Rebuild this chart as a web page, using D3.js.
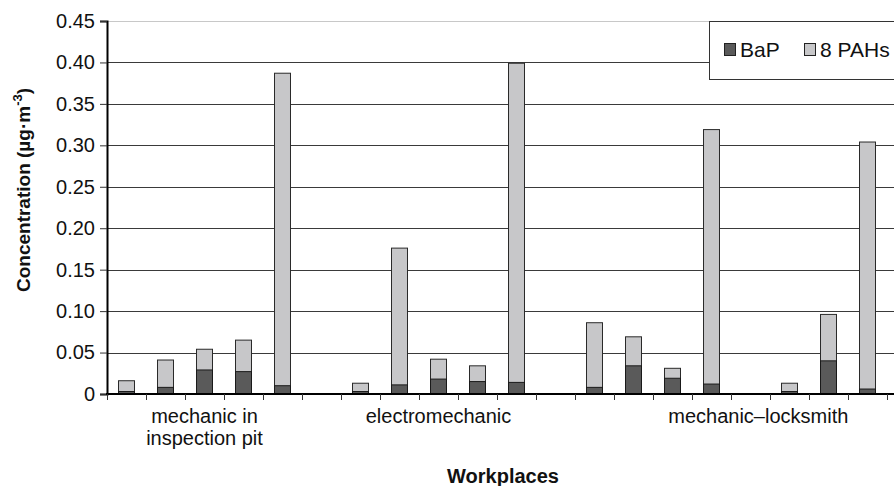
<!DOCTYPE html>
<html>
<head>
<meta charset="utf-8">
<script src="https://cdn.jsdelivr.net/npm/d3@7"></script>
<style>
  html, body { margin: 0; padding: 0; background: #fff; }
  svg { display: block; }
  text { font-family: "Liberation Sans", Arial, sans-serif; fill: #111; }
</style>
</head>
<body>
<svg id="chart" width="894" height="486"></svg>
<script>
// Sampling slots along the x axis (empty slots separate the workplaces)
const slots = d3.range(21);

// BaP concentration per sample, µg·m⁻³ (null = empty slot)
const bap = [0.003, 0.008, 0.029, 0.027, 0.010, null,
             0.003, 0.011, 0.018, 0.015, 0.014, null,
             0.008, 0.034, 0.019, 0.012, null, 0.003, 0.040, 0.006, null];

// Sum of 8 PAHs per sample, µg·m⁻³
const pahs = [0.016, 0.041, 0.054, 0.065, 0.387, null,
              0.013, 0.176, 0.042, 0.034, 0.399, null,
              0.086, 0.069, 0.031, 0.319, null, 0.013, 0.096, 0.304, null];

// Workplace labels and the slot position each is centred on
const groupLabels = [["mechanic in", "inspection pit"], ["electromechanic"], ["mechanic\u2013locksmith"]];
const groupCenters = [2.5, 8.5, 16.7];

// Value axis ticks
const yTicks = [0, 0.05, 0.10, 0.15, 0.20, 0.25, 0.30, 0.35, 0.40, 0.45];
const yTickLabels = ["0", "0.05", "0.10", "0.15", "0.20", "0.25", "0.30", "0.35", "0.40", "0.45"];

const seriesNames = ["BaP", "8 PAHs"];
const seriesColors = ["#5a5a5a", "#c7c7c9"];

const svg = d3.select("#chart");
const plotLeft = 107, plotTop = 21, plotBottom = 394, plotRight = 926;

const x = d3.scaleBand().domain(slots).range([plotLeft, plotRight]).padding(0);
const step = x.step();
const y = d3.scaleLinear().domain([0, 0.45]).range([plotBottom, plotTop]);
const barW = step * 0.41;

// Horizontal gridlines
svg.append("g").selectAll("line").data(yTicks.slice(1)).join("line")
  .attr("x1", plotLeft).attr("x2", 894)
  .attr("y1", d => Math.round(y(d)) + 0.5).attr("y2", d => Math.round(y(d)) + 0.5)
  .attr("stroke", d => d === 0.45 ? "#c8c8c8" : "#3a3a3a")
  .attr("stroke-width", 1);

// Bars: 8 PAHs sum behind, BaP in front from the baseline
const bars = svg.append("g");
slots.forEach(i => {
  if (pahs[i] == null) return;
  const cx = x(i) + step / 2;
  bars.append("rect")
    .attr("x", cx - barW / 2).attr("width", barW)
    .attr("y", y(pahs[i])).attr("height", y(0) - y(pahs[i]))
    .attr("fill", seriesColors[1]).attr("stroke", "#2a2a2a").attr("stroke-width", 1);
  bars.append("rect")
    .attr("x", cx - barW / 2).attr("width", barW)
    .attr("y", y(bap[i])).attr("height", y(0) - y(bap[i]))
    .attr("fill", seriesColors[0]).attr("stroke", "#1a1a1a").attr("stroke-width", 1);
});

// Y axis
const yAxis = d3.axisLeft(y).tickValues(yTicks)
  .tickFormat((d, i) => yTickLabels[i]).tickSize(7).tickPadding(5);
const gy = svg.append("g").attr("transform", `translate(${plotLeft},0)`).call(yAxis);
gy.select(".domain").attr("stroke", "#000").attr("stroke-width", 2);
gy.selectAll(".tick line").attr("stroke", "#333");
gy.selectAll(".tick text").style("font-size", "20px")
  .style("font-family", "'Liberation Sans', Arial, sans-serif").attr("fill", "#111");

// X axis line and slot-boundary ticks
svg.append("line").attr("x1", plotLeft - 1).attr("x2", 894).attr("y1", plotBottom).attr("y2", plotBottom)
  .attr("stroke", "#000").attr("stroke-width", 2);
svg.append("g").selectAll("line").data(slots).join("line")
  .attr("x1", d => Math.round(x(d)) + 0.5).attr("x2", d => Math.round(x(d)) + 0.5)
  .attr("y1", plotBottom).attr("y2", plotBottom + 6)
  .attr("stroke", "#333").attr("stroke-width", 1);

// Workplace labels
groupLabels.forEach((lines, g) => {
  const cx = plotLeft + groupCenters[g] * step;
  const t = svg.append("text")
    .attr("x", cx).attr("y", 423)
    .attr("text-anchor", "middle").style("font-size", "20px");
  lines.forEach((ln, k) => {
    t.append("tspan").attr("x", cx).attr("dy", k === 0 ? 0 : 22).text(ln);
  });
});

// Axis titles
svg.append("text").attr("x", 503).attr("y", 483).attr("text-anchor", "middle")
  .style("font-size", "20px").style("font-weight", "bold").text("Workplaces");

const yt = svg.append("text")
  .attr("transform", "translate(30,190) rotate(-90)")
  .attr("text-anchor", "middle")
  .style("font-size", "19px").style("font-weight", "bold");
yt.append("tspan").text("Concentration (\u00b5g\u00b7m");
yt.append("tspan").attr("dy", -8).style("font-size", "13px").text("-3");
yt.append("tspan").attr("dy", 8).text(")");

// Legend
const lg = svg.append("g");
lg.append("rect").attr("x", 709.5).attr("y", 21.5).attr("width", 200).attr("height", 58)
  .attr("fill", "#fff").attr("stroke", "#333").attr("stroke-width", 1);
const legendX = [724, 804];
seriesNames.forEach((name, i) => {
  lg.append("rect").attr("x", legendX[i] + 0.5).attr("y", 43.5).attr("width", 11).attr("height", 12)
    .attr("fill", seriesColors[i]).attr("stroke", "#222").attr("stroke-width", 1);
  lg.append("text").attr("x", legendX[i] + 16).attr("y", 57)
    .style("font-size", "21px").text(name);
});
</script>
</body>
</html>
